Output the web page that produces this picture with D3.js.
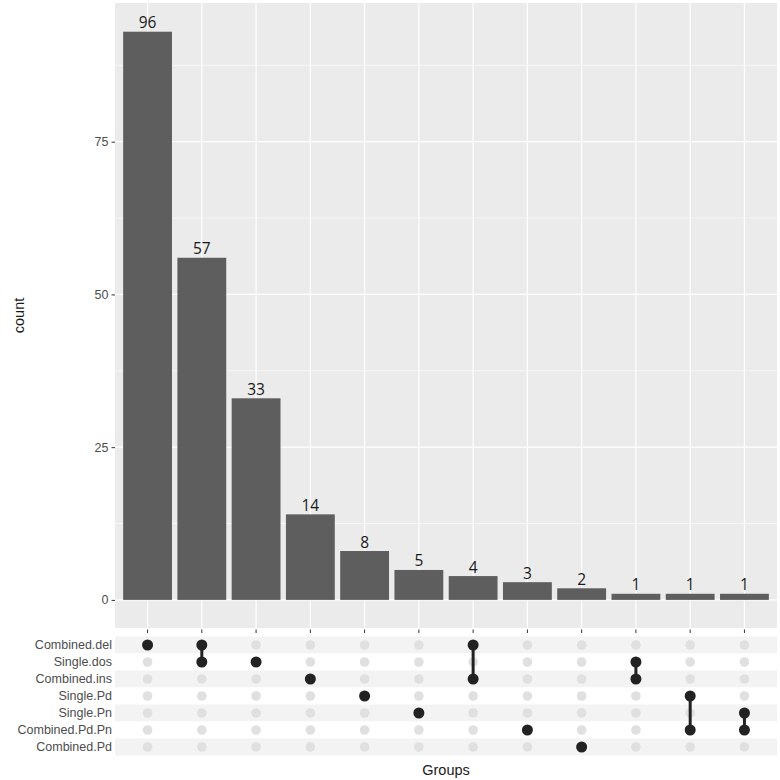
<!DOCTYPE html>
<html>
<head>
<meta charset="utf-8">
<script src="https://cdn.jsdelivr.net/npm/d3@7"></script>
<style>
  body { margin: 0; background: #fff; }
  text { font-family: "Liberation Sans", Arial, sans-serif; }
</style>
</head>
<body>
<div id="chart"></div>
<script>
const width = 780, height = 780;

// sets (matrix rows, top to bottom)
const sets = ["Combined.del", "Single.dos", "Combined.ins", "Single.Pd", "Single.Pn", "Combined.Pd.Pn", "Combined.Pd"];
// intersections, one per bar
const groups = [
  ["Combined.del"],
  ["Combined.del", "Single.dos"],
  ["Single.dos"],
  ["Combined.ins"],
  ["Single.Pd"],
  ["Single.Pn"],
  ["Combined.del", "Combined.ins"],
  ["Combined.Pd.Pn"],
  ["Combined.Pd"],
  ["Single.dos", "Combined.ins"],
  ["Single.Pd", "Combined.Pd.Pn"],
  ["Single.Pn", "Combined.Pd.Pn"]
];
// label printed above each bar
const counts = [96, 57, 33, 14, 8, 5, 4, 3, 2, 1, 1, 1];
// bar heights as drawn in the picture
const barValues = [93, 56, 33, 14, 8, 4.9, 3.9, 2.9, 1.9, 1, 1, 1];
const yTicks = [0, 25, 50, 75];
const yMinor = [12.5, 37.5, 62.5, 87.5];

const panel = {left: 115, right: 777, top: 3, bottom: 628};
const matrix = {top: 636.5, bottom: 755.5};

const svg = d3.select("#chart").append("svg")
    .attr("width", width)
    .attr("height", height)
    .attr("viewBox", [0, 0, width, height]);

const idx = groups.map((d, i) => i);

const x = d3.scaleBand()
    .domain(idx)
    .range([panel.left, panel.right])
    .paddingInner(0.1)
    .paddingOuter(0.15);

const y = d3.scaleLinear()
    .domain([-4.6, 97.7])
    .range([panel.bottom, panel.top]);

const row = d3.scaleBand()
    .domain(sets)
    .range([matrix.top, matrix.bottom]);

const cx = i => x(i) + x.bandwidth() / 2;

// bar panel background
svg.append("rect")
    .attr("x", panel.left)
    .attr("y", panel.top)
    .attr("width", panel.right - panel.left)
    .attr("height", panel.bottom - panel.top)
    .attr("fill", "#ebebeb");

const grid = svg.append("g");
grid.selectAll("line.minor")
  .data(yMinor)
  .join("line")
    .attr("class", "minor")
    .attr("x1", panel.left).attr("x2", panel.right)
    .attr("y1", d => y(d)).attr("y2", d => y(d))
    .attr("stroke", "#fff")
    .attr("stroke-width", 0.6);
grid.selectAll("line.major")
  .data(yTicks)
  .join("line")
    .attr("class", "major")
    .attr("x1", panel.left).attr("x2", panel.right)
    .attr("y1", d => y(d)).attr("y2", d => y(d))
    .attr("stroke", "#fff")
    .attr("stroke-width", 1.2);
grid.selectAll("line.vx")
  .data(idx)
  .join("line")
    .attr("class", "vx")
    .attr("x1", cx).attr("x2", cx)
    .attr("y1", panel.top).attr("y2", panel.bottom)
    .attr("stroke", "#fff")
    .attr("stroke-width", 1.2);

// bars
svg.append("g")
  .selectAll("rect")
  .data(idx)
  .join("rect")
    .attr("x", i => x(i))
    .attr("width", x.bandwidth())
    .attr("y", i => y(barValues[i]))
    .attr("height", i => y(0) - y(barValues[i]))
    .attr("fill", "#5e5e5e");

// labels above bars
svg.append("g")
  .selectAll("text")
  .data(idx)
  .join("text")
    .attr("x", cx)
    .attr("y", i => y(barValues[i]) - 3.5)
    .attr("text-anchor", "middle")
    .style("font-family", "'Open Sans', 'Noto Sans', sans-serif")
    .attr("font-size", 15.5)
    .attr("fill", "#1a1a1a")
    .text(i => counts[i]);

// y axis
const yAxis = svg.append("g")
    .attr("transform", `translate(${panel.left},0)`)
    .call(d3.axisLeft(y).tickValues(yTicks).tickSize(3.5).tickPadding(3));
yAxis.select(".domain").remove();
yAxis.selectAll(".tick line").attr("stroke", "#333").attr("stroke-width", 1);
yAxis.selectAll(".tick text")
    .attr("fill", "#4d4d4d")
    .attr("font-size", 12.5)
    .style("font-family", "'Liberation Sans', Arial, sans-serif");

// x ticks at panel bottom
svg.append("g")
  .selectAll("line")
  .data(idx)
  .join("line")
    .attr("x1", cx).attr("x2", cx)
    .attr("y1", panel.bottom + 1.5).attr("y2", panel.bottom + 5)
    .attr("stroke", "#333")
    .attr("stroke-width", 1);

// matrix stripes
svg.append("g")
  .selectAll("rect")
  .data(sets)
  .join("rect")
    .attr("x", panel.left)
    .attr("width", panel.right - panel.left)
    .attr("y", d => row(d))
    .attr("height", row.bandwidth())
    .attr("fill", (d, i) => i % 2 === 0 ? "#f3f3f3" : "#fff");

// row labels
svg.append("g")
  .selectAll("text")
  .data(sets)
  .join("text")
    .attr("x", panel.left - 3)
    .attr("y", d => row(d) + row.bandwidth() / 2)
    .attr("dy", "0.35em")
    .attr("text-anchor", "end")
    .attr("font-size", 12.5)
    .attr("fill", "#4d4d4d")
    .text(d => d);

const ry = s => row(s) + row.bandwidth() / 2;

// empty dots
const cells = [];
idx.forEach(i => sets.forEach(s => cells.push({i, s, on: groups[i].includes(s)})));
svg.append("g")
  .selectAll("circle")
  .data(cells.filter(c => !c.on))
  .join("circle")
    .attr("cx", c => cx(c.i))
    .attr("cy", c => ry(c.s))
    .attr("r", 4.8)
    .attr("fill", "#e0e0e0");

// connecting lines
svg.append("g")
  .selectAll("line")
  .data(idx.filter(i => groups[i].length > 1))
  .join("line")
    .attr("x1", cx).attr("x2", cx)
    .attr("y1", i => d3.min(groups[i], ry))
    .attr("y2", i => d3.max(groups[i], ry))
    .attr("stroke", "#222")
    .attr("stroke-width", 3);

// filled dots
svg.append("g")
  .selectAll("circle")
  .data(cells.filter(c => c.on))
  .join("circle")
    .attr("cx", c => cx(c.i))
    .attr("cy", c => ry(c.s))
    .attr("r", 5.5)
    .attr("fill", "#222");

// axis titles
svg.append("text")
    .attr("x", (panel.left + panel.right) / 2)
    .attr("y", 775)
    .attr("text-anchor", "middle")
    .attr("font-size", 14.5)
    .attr("fill", "#1a1a1a")
    .text("Groups");

svg.append("text")
    .attr("transform", `translate(24,${(panel.top + panel.bottom) / 2}) rotate(-90)`)
    .attr("text-anchor", "middle")
    .attr("font-size", 14.5)
    .attr("fill", "#1a1a1a")
    .text("count");
</script>
</body>
</html>
